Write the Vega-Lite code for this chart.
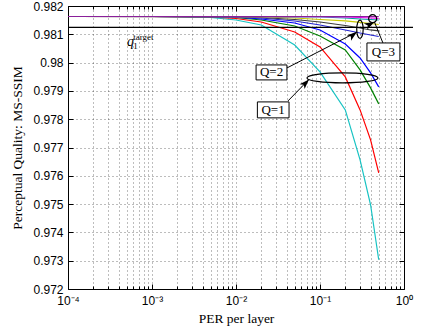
{
  "$schema": "https://vega.github.io/schema/vega-lite/v6.json",
  "width": 336,
  "height": 283,
  "autosize": {"type": "none"},
  "padding": {"left": 68, "top": 6, "right": 17, "bottom": 38},
  "background": "white",
  "config": {
    "view": {"stroke": "black", "strokeWidth": 1},
    "axis": {"domain": false, "labelFont": "Liberation Sans", "labelFontSize": 12, "labelColor": "#000", "titleFont": "Liberation Serif", "titleFontSize": 13.5, "titleFontWeight": "normal", "titleColor": "#000", "tickColor": "#000"}
  },
  "datasets": {
    "curves": [
      {"s": "a_c", "per": 0.0001, "q": 0.981629}, {"s": "a_c", "per": 0.001, "q": 0.981629}, {"s": "a_c", "per": 0.002, "q": 0.981625}, {"s": "a_c", "per": 0.005, "q": 0.981594}, {"s": "a_c", "per": 0.01, "q": 0.981506}, {"s": "a_c", "per": 0.02, "q": 0.981329}, {"s": "a_c", "per": 0.05, "q": 0.980623}, {"s": "a_c", "per": 0.1, "q": 0.97967}, {"s": "a_c", "per": 0.2, "q": 0.978329}, {"s": "a_c", "per": 0.3, "q": 0.976564}, {"s": "a_c", "per": 0.4, "q": 0.974976}, {"s": "a_c", "per": 0.5, "q": 0.973034},
      {"s": "b_r", "per": 0.0001, "q": 0.981629}, {"s": "b_r", "per": 0.001, "q": 0.981629}, {"s": "b_r", "per": 0.002, "q": 0.981627}, {"s": "b_r", "per": 0.005, "q": 0.981612}, {"s": "b_r", "per": 0.01, "q": 0.981559}, {"s": "b_r", "per": 0.02, "q": 0.981435}, {"s": "b_r", "per": 0.05, "q": 0.981082}, {"s": "b_r", "per": 0.1, "q": 0.980553}, {"s": "b_r", "per": 0.2, "q": 0.979494}, {"s": "b_r", "per": 0.3, "q": 0.978329}, {"s": "b_r", "per": 0.4, "q": 0.97727}, {"s": "b_r", "per": 0.5, "q": 0.976105},
      {"s": "c_g", "per": 0.0001, "q": 0.981629}, {"s": "c_g", "per": 0.001, "q": 0.981629}, {"s": "c_g", "per": 0.005, "q": 0.981619}, {"s": "c_g", "per": 0.01, "q": 0.981594}, {"s": "c_g", "per": 0.02, "q": 0.981506}, {"s": "c_g", "per": 0.05, "q": 0.981294}, {"s": "c_g", "per": 0.1, "q": 0.980941}, {"s": "c_g", "per": 0.2, "q": 0.980447}, {"s": "c_g", "per": 0.3, "q": 0.979741}, {"s": "c_g", "per": 0.4, "q": 0.979106}, {"s": "c_g", "per": 0.5, "q": 0.978541},
      {"s": "d_b", "per": 0.0001, "q": 0.981629}, {"s": "d_b", "per": 0.001, "q": 0.981629}, {"s": "d_b", "per": 0.005, "q": 0.981622}, {"s": "d_b", "per": 0.01, "q": 0.981605}, {"s": "d_b", "per": 0.02, "q": 0.981541}, {"s": "d_b", "per": 0.05, "q": 0.9814}, {"s": "d_b", "per": 0.1, "q": 0.981153}, {"s": "d_b", "per": 0.2, "q": 0.980659}, {"s": "d_b", "per": 0.3, "q": 0.980164}, {"s": "d_b", "per": 0.4, "q": 0.979635}, {"s": "d_b", "per": 0.5, "q": 0.979141},
      {"s": "e_b2", "per": 0.0001, "q": 0.981629}, {"s": "e_b2", "per": 0.001, "q": 0.981629}, {"s": "e_b2", "per": 0.01, "q": 0.981612}, {"s": "e_b2", "per": 0.02, "q": 0.981576}, {"s": "e_b2", "per": 0.05, "q": 0.981471}, {"s": "e_b2", "per": 0.1, "q": 0.981329}, {"s": "e_b2", "per": 0.2, "q": 0.981153}, {"s": "e_b2", "per": 0.3, "q": 0.981047}, {"s": "e_b2", "per": 0.4, "q": 0.980976}, {"s": "e_b2", "per": 0.5, "q": 0.980923},
      {"s": "f_k", "per": 0.0001, "q": 0.981629}, {"s": "f_k", "per": 0.01, "q": 0.981625}, {"s": "f_k", "per": 0.02, "q": 0.981594}, {"s": "f_k", "per": 0.05, "q": 0.981523}, {"s": "f_k", "per": 0.1, "q": 0.981435}, {"s": "f_k", "per": 0.2, "q": 0.981312}, {"s": "f_k", "per": 0.3, "q": 0.981223}, {"s": "f_k", "per": 0.4, "q": 0.981153}, {"s": "f_k", "per": 0.5, "q": 0.981118},
      {"s": "g_y", "per": 0.0001, "q": 0.981629}, {"s": "g_y", "per": 0.01, "q": 0.981627}, {"s": "g_y", "per": 0.02, "q": 0.981612}, {"s": "g_y", "per": 0.05, "q": 0.981576}, {"s": "g_y", "per": 0.1, "q": 0.981523}, {"s": "g_y", "per": 0.2, "q": 0.981471}, {"s": "g_y", "per": 0.3, "q": 0.981418}, {"s": "g_y", "per": 0.4, "q": 0.981382}, {"s": "g_y", "per": 0.5, "q": 0.981347},
      {"s": "h_t", "per": 0.0001, "q": 0.981629}, {"s": "h_t", "per": 0.02, "q": 0.981627}, {"s": "h_t", "per": 0.05, "q": 0.981619}, {"s": "h_t", "per": 0.1, "q": 0.981612}, {"s": "h_t", "per": 0.2, "q": 0.981576}, {"s": "h_t", "per": 0.3, "q": 0.981541}, {"s": "h_t", "per": 0.4, "q": 0.981523}, {"s": "h_t", "per": 0.5, "q": 0.981506},
      {"s": "i_m", "per": 0.0001, "q": 0.981629}, {"s": "i_m", "per": 0.05, "q": 0.981627}, {"s": "i_m", "per": 0.1, "q": 0.981622}, {"s": "i_m", "per": 0.2, "q": 0.981612}, {"s": "i_m", "per": 0.3, "q": 0.981594}, {"s": "i_m", "per": 0.4, "q": 0.981576}, {"s": "i_m", "per": 0.5, "q": 0.981559},
      {"s": "j_p", "per": 0.0001, "q": 0.981629}, {"s": "j_p", "per": 0.1, "q": 0.981629}, {"s": "j_p", "per": 0.3, "q": 0.981627}, {"s": "j_p", "per": 0.5, "q": 0.981622}
    ],
    "target": [{"per": 0.0001, "q": 0.981248}, {"per": 1.28, "q": 0.981248}],
    "boxes": [
      {"id": "Q1", "label": "Q=1", "x1": 0.01797, "x2": 0.0428, "y1": 0.978611, "y2": 0.978047, "cx": 0.02761, "cy": 0.978329},
      {"id": "Q2", "label": "Q=2", "x1": 0.01734, "x2": 0.0404, "y1": 0.979917, "y2": 0.979388, "cx": 0.0265, "cy": 0.979653},
      {"id": "Q3", "label": "Q=3", "x1": 0.3621, "x2": 0.8937, "y1": 0.980694, "y2": 0.980059, "cx": 0.5689, "cy": 0.980376}
    ],
    "ellipses": [
      {"id": "Q1", "per": 0.1851, "q": 0.979459},
      {"id": "Q2", "per": 0.2989, "q": 0.981178},
      {"id": "Q3", "per": 0.4232, "q": 0.981552}
    ],
    "arrows": [
      {"id": "Q1", "x1": 0.04165, "y1": 0.978647, "x2": 0.07398, "y2": 0.979406},
      {"id": "Q2", "x1": 0.04052, "y1": 0.979812, "x2": 0.2754, "y2": 0.981082},
      {"id": "Q3", "x1": 0.5612, "y1": 0.980694, "x2": 0.4446, "y2": 0.981435}
    ],
    "qlabel": [{"t": "q", "per": 0.000503, "q": 0.980588}],
    "qsub": [
      {"t": "1", "per": 0.000598, "q": 0.980482},
      {"t": "target", "per": 0.000598, "q": 0.9808}
    ]
  },
  "layer": [
    {
      "data": {"name": "curves"},
      "mark": {"type": "line", "strokeWidth": 1.2},
      "encoding": {
        "x": {"field": "per", "type": "quantitative", "scale": {"type": "log", "domain": [0.0001, 1], "nice": false},
          "axis": {"orient": "bottom", "title": "PER per layer", "titlePadding": 5, "ticks": false, "labelPadding": 6,
            "values": [0.0001,0.0002,0.0003,0.0004,0.0005,0.0006,0.0007,0.0008,0.0009,0.001,0.002,0.003,0.004,0.005,0.006,0.007,0.008,0.009,0.01,0.02,0.03,0.04,0.05,0.06,0.07,0.08,0.09,0.1,0.2,0.3,0.4,0.5,0.6,0.7,0.8,0.9,1],
            "labelExpr": "datum.value==0.0001?'10⁻⁴':datum.value==0.001?'10⁻³':datum.value==0.01?'10⁻²':datum.value==0.1?'10⁻¹':datum.value==1?'10⁰':''",
            "labelOverlap": false, "labelFlush": false, "labelBound": false,
            "grid": true, "gridColor": "#000", "gridOpacity": 0.65, "gridDash": [1, 3], "gridWidth": 0.8}},
        "y": {"field": "q", "type": "quantitative", "scale": {"domain": [0.972, 0.982], "zero": false, "nice": false},
          "axis": {"orient": "left", "title": "Perceptual Quality: MS-SSIM", "titlePadding": 8, "ticks": false, "labelPadding": 5,
            "values": [0.972,0.973,0.974,0.975,0.976,0.977,0.978,0.979,0.98,0.981,0.982],
            "labelExpr": "format(datum.value, '.3~f')", "labelOverlap": false, "labelFlush": false,
            "grid": true, "gridColor": "#000", "gridOpacity": 0.65, "gridDash": [1, 3], "gridWidth": 0.8}},
        "color": {"field": "s", "type": "nominal", "legend": null,
          "scale": {"domain": ["a_c","b_r","c_g","d_b","e_b2","f_k","g_y","h_t","i_m","j_p"],
            "range": ["#17c3c3","#ff0000","#008000","#0000ff","#2323d0","#3a3a3a","#c8c800","#009c9c","#ff00ff","#8a1f9a"]}}
      }
    },
    {
      "data": {"name": "target"},
      "mark": {"type": "line", "color": "#000", "strokeWidth": 1.3, "clip": false},
      "encoding": {
        "x": {"field": "per", "type": "quantitative", "axis": {"orient": "top", "title": null, "labels": false, "grid": false, "tickSize": -5, "values": [0.0001,0.001,0.01,0.1,1]}},
        "y": {"field": "q", "type": "quantitative", "axis": {"orient": "right", "title": null, "labels": false, "grid": false, "tickSize": -5, "values": [0.972,0.973,0.974,0.975,0.976,0.977,0.978,0.979,0.98,0.981,0.982]}}
      }
    },
    {
      "data": {"name": "boxes"},
      "mark": {"type": "rect", "fill": "white", "stroke": "black", "strokeWidth": 1},
      "encoding": {
        "x": {"field": "x1", "type": "quantitative", "axis": {"orient": "bottom", "title": null, "labels": false, "grid": false, "tickSize": -5, "values": [0.0001,0.001,0.01,0.1,1]}},
        "x2": {"field": "x2"},
        "y": {"field": "y1", "type": "quantitative", "axis": {"orient": "left", "title": null, "labels": false, "grid": false, "tickSize": -5, "values": [0.972,0.973,0.974,0.975,0.976,0.977,0.978,0.979,0.98,0.981,0.982]}},
        "y2": {"field": "y2"}
      }
    },
    {
      "data": {"name": "boxes"},
      "mark": {"type": "text", "font": "Liberation Serif", "fontSize": 13, "align": "center", "baseline": "middle", "color": "#000"},
      "encoding": {
        "x": {"field": "cx", "type": "quantitative", "axis": {"orient": "bottom", "title": null, "labels": false, "grid": false, "tickSize": -3, "values": [0.0002,0.0003,0.0004,0.0005,0.0006,0.0007,0.0008,0.0009,0.002,0.003,0.004,0.005,0.006,0.007,0.008,0.009,0.02,0.03,0.04,0.05,0.06,0.07,0.08,0.09,0.2,0.3,0.4,0.5,0.6,0.7,0.8,0.9]}},
        "y": {"field": "cy", "type": "quantitative", "axis": null},
        "text": {"field": "label"}
      }
    },
    {
      "data": {"name": "ellipses"},
      "transform": [{"filter": "datum.id == 'Q1'"}],
      "mark": {"type": "point", "filled": false, "stroke": "black", "strokeWidth": 1.2, "opacity": 1, "size": 5041,
        "shape": "M1,0C1,0.078,0.552,0.141,0,0.141C-0.552,0.141,-1,0.078,-1,0C-1,-0.078,-0.552,-0.141,0,-0.141C0.552,-0.141,1,-0.078,1,0Z"},
      "encoding": {
        "x": {"field": "per", "type": "quantitative", "axis": {"orient": "top", "title": null, "labels": false, "grid": false, "tickSize": -3, "values": [0.0002,0.0003,0.0004,0.0005,0.0006,0.0007,0.0008,0.0009,0.002,0.003,0.004,0.005,0.006,0.007,0.008,0.009,0.02,0.03,0.04,0.05,0.06,0.07,0.08,0.09,0.2,0.3,0.4,0.5,0.6,0.7,0.8,0.9]}},
        "y": {"field": "q", "type": "quantitative", "axis": null}
      }
    },
    {
      "data": {"name": "ellipses"},
      "transform": [{"filter": "datum.id == 'Q2'"}],
      "mark": {"type": "point", "filled": false, "stroke": "black", "strokeWidth": 1.2, "opacity": 1, "size": 339,
        "shape": "M0.35,0C0.35,0.552,0.193,1,0,1C-0.193,1,-0.35,0.552,-0.35,0C-0.35,-0.552,-0.193,-1,0,-1C0.193,-1,0.35,-0.552,0.35,0Z"},
      "encoding": {
        "x": {"field": "per", "type": "quantitative", "axis": null},
        "y": {"field": "q", "type": "quantitative", "axis": null}
      }
    },
    {
      "data": {"name": "ellipses"},
      "transform": [{"filter": "datum.id == 'Q3'"}],
      "mark": {"type": "point", "filled": false, "stroke": "black", "strokeWidth": 1.2, "opacity": 1, "size": 64,
        "shape": "M1,0C1,0.552,0.552,1,0,1C-0.552,1,-1,0.552,-1,0C-1,-0.552,-0.552,-1,0,-1C0.552,-1,1,-0.552,1,0Z"},
      "encoding": {
        "x": {"field": "per", "type": "quantitative", "axis": null},
        "y": {"field": "q", "type": "quantitative", "axis": null}
      }
    },
    {
      "data": {"name": "arrows"},
      "mark": {"type": "rule", "color": "black", "strokeWidth": 1},
      "encoding": {
        "x": {"field": "x1", "type": "quantitative", "axis": null},
        "y": {"field": "y1", "type": "quantitative", "axis": null},
        "x2": {"field": "x2"},
        "y2": {"field": "y2"}
      }
    },
    {
      "data": {"name": "arrows"},
      "mark": {"type": "point", "filled": true, "fill": "black", "stroke": null, "opacity": 1, "shape": "M0,0L0.7,2L0,1.5L-0.7,2Z", "size": 100},
      "encoding": {
        "x": {"field": "x2", "type": "quantitative", "axis": null},
        "y": {"field": "y2", "type": "quantitative", "axis": null},
        "angle": {"field": "id", "type": "nominal", "legend": null, "scale": {"domain": ["Q1","Q2","Q3"], "range": [44, 62.8, 338]}}
      }
    },
    {
      "data": {"name": "qlabel"},
      "mark": {"type": "text", "font": "Liberation Serif", "fontStyle": "italic", "fontSize": 14, "align": "left", "baseline": "alphabetic", "color": "#000"},
      "encoding": {
        "x": {"field": "per", "type": "quantitative", "axis": null},
        "y": {"field": "q", "type": "quantitative", "axis": null},
        "text": {"field": "t"}
      }
    },
    {
      "data": {"name": "qsub"},
      "mark": {"type": "text", "font": "Liberation Serif", "fontSize": 9, "align": "left", "baseline": "alphabetic", "color": "#000"},
      "encoding": {
        "x": {"field": "per", "type": "quantitative", "axis": null},
        "y": {"field": "q", "type": "quantitative", "axis": null},
        "text": {"field": "t"}
      }
    }
  ],
  "resolve": {"axis": {"x": "independent", "y": "independent"}}
}
